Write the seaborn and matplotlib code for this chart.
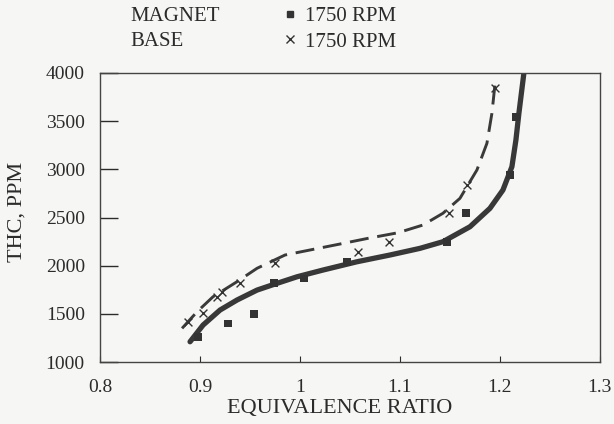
import matplotlib

matplotlib.use("Agg")
import matplotlib.pyplot as plt
import pandas as pd
import seaborn as sns
from matplotlib.lines import Line2D

magnet_phi = [0.898, 0.928, 0.954, 0.974, 1.004, 1.047, 1.147, 1.166, 1.210, 1.216]
magnet_thc = [1263, 1402, 1498, 1823, 1869, 2041, 2249, 2544, 2941, 3540]

base_phi = [0.888, 0.903, 0.917, 0.922, 0.940, 0.975, 1.058, 1.089, 1.149, 1.167, 1.195]
base_thc = [1418, 1506, 1678, 1730, 1817, 2031, 2139, 2242, 2544, 2837, 3841]

# fitted curves
magnet_fit_phi = [0.890, 0.903, 0.920, 0.937, 0.957, 0.977, 0.997, 1.023, 1.057, 1.090,
                  1.120, 1.143, 1.170, 1.190, 1.203, 1.212, 1.216, 1.219, 1.224]
magnet_fit_thc = [1211, 1384, 1540, 1644, 1747, 1817, 1885, 1955, 2041, 2111,
                  2180, 2249, 2404, 2595, 2785, 3027, 3304, 3582, 4000]

base_fit_phi = [0.882, 0.897, 0.913, 0.937, 0.957, 0.985, 1.010, 1.040, 1.068, 1.098,
                1.123, 1.143, 1.160, 1.177, 1.187, 1.192, 1.195]
base_fit_thc = [1350, 1522, 1678, 1834, 1973, 2111, 2163, 2225, 2284, 2342,
                2422, 2544, 2699, 2993, 3270, 3582, 3875]

x_ticks = [0.8, 0.9, 1.0, 1.1, 1.2, 1.3]
x_tick_labels = ["0.8", "0.9", "1", "1.1", "1.2", "1.3"]
y_ticks = [1000, 1500, 2000, 2500, 3000, 3500, 4000]

INK = "#2b2b2b"
PAPER = "#f6f6f4"

sns.set_style("ticks")
plt.rcParams["font.family"] = ["Liberation Serif", "DejaVu Serif"]

fig = plt.figure(figsize=(6.14, 4.24), dpi=100, facecolor=PAPER)
ax = fig.add_axes([0.163, 0.146, 0.814, 0.682])
ax.set_facecolor(PAPER)

magnet_fit = pd.DataFrame({"phi": magnet_fit_phi, "thc": magnet_fit_thc})
base_fit = pd.DataFrame({"phi": base_fit_phi, "thc": base_fit_thc})
magnet = pd.DataFrame({"phi": magnet_phi, "thc": magnet_thc})
base = pd.DataFrame({"phi": base_phi, "thc": base_thc})

sns.lineplot(data=magnet_fit, x="phi", y="thc", sort=False, estimator=None,
             color="#383838", linewidth=3.8, solid_capstyle="round", ax=ax)
sns.lineplot(data=base_fit, x="phi", y="thc", sort=False, estimator=None,
             color="#3a3a3a", linewidth=2.1, ax=ax)
ax.lines[-1].set_dashes([6.5, 3.0])

sns.scatterplot(data=magnet, x="phi", y="thc", marker="s", s=30, color="#333333",
                edgecolor="none", ax=ax, zorder=4)
sns.scatterplot(data=base, x="phi", y="thc", marker="x", s=32, color="#333333",
                linewidth=1.0, ax=ax, zorder=4)

ax.set_xlim(0.8, 1.3)
ax.set_ylim(1000, 4000)
ax.set_xticks(x_ticks)
ax.set_xticklabels(x_tick_labels)
ax.set_yticks(y_ticks)
ax.tick_params(axis="y", direction="in", length=13, width=1.0, colors=INK,
               labelsize=14, pad=11)
ax.tick_params(axis="x", direction="in", length=4, width=0.8, colors=INK,
               labelsize=14, pad=12)
for spine in ax.spines.values():
    spine.set_visible(True)
    spine.set_color("#444444")
    spine.set_linewidth(1.0)

ax.set_xlabel("EQUIVALENCE RATIO", fontsize=16, color=INK)
ax.xaxis.set_label_coords(0.48, -0.128)
ax.set_ylabel("THC, PPM", fontsize=16, color=INK)
ax.yaxis.set_label_coords(-0.148, 0.52)

# legend block above the axes
handles = [
    Line2D([], [], marker="s", linestyle="none", color="#333333", markersize=5),
    Line2D([], [], marker="x", linestyle="none", color="#333333", markersize=6,
           markeredgewidth=1.0),
]
fig.legend(handles, ["1750 RPM", "1750 RPM"], loc="upper left",
           bbox_to_anchor=(0.459, 0.985), frameon=False, fontsize=15,
           borderpad=0, borderaxespad=0, handlelength=0.8, handletextpad=0.32,
           labelspacing=0.3, labelcolor=INK)
fig.text(0.212, 0.962, "MAGNET", fontsize=15, color=INK, va="center")
fig.text(0.212, 0.903, "BASE", fontsize=15, color=INK, va="center")

fig.savefig("out.png", dpi=100, facecolor=fig.get_facecolor())
